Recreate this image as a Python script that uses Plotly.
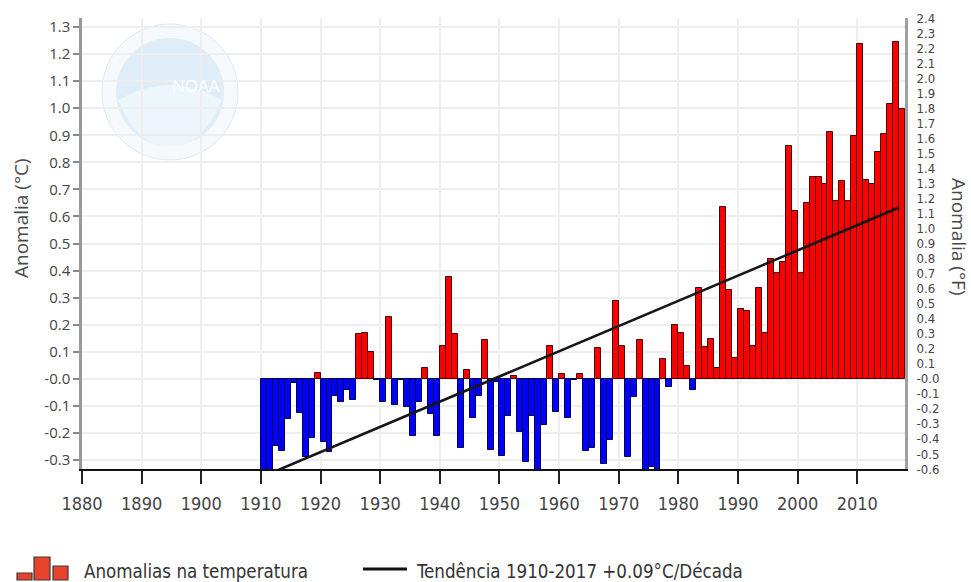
import plotly.graph_objects as go

# Annual temperature anomalies (°C), 1910-2017
years = list(range(1910, 2018))
anomalies = [
    -0.36, -0.35, -0.25, -0.265, -0.15, -0.015, -0.125, -0.29, -0.22, 0.02,      # 1910s
    -0.235, -0.27, -0.065, -0.085, -0.04, -0.08, 0.165, 0.17, 0.10, -0.005,      # 1920s
    -0.085, 0.23, -0.095, -0.005, -0.105, -0.21, -0.085, 0.04, -0.13, -0.21,     # 1930s
    0.12, 0.378, 0.166, -0.256, 0.031, -0.143, -0.062, 0.142, -0.262, -0.01,     # 1940s
    -0.284, -0.137, 0.009, -0.195, -0.308, -0.139, -0.345, -0.17, 0.123, -0.123, # 1950s
    0.017, -0.146, -0.006, 0.017, -0.268, -0.256, 0.113, -0.314, -0.225, 0.289,  # 1960s
    0.123, -0.289, -0.066, 0.143, -0.35, -0.325, -0.345, 0.074, -0.031, 0.20,    # 1970s
    0.171, 0.048, -0.043, 0.337, 0.116, 0.146, 0.039, 0.634, 0.329, 0.076,       # 1980s
    0.257, 0.249, 0.121, 0.337, 0.169, 0.443, 0.39, 0.431, 0.86, 0.62,           # 1990s
    0.39, 0.649, 0.746, 0.746, 0.72, 0.911, 0.657, 0.73, 0.657, 0.897,           # 2000s
    1.236, 0.734, 0.719, 0.839, 0.905, 1.014, 1.243, 0.997,                      # 2010s
]
assert len(anomalies) == len(years)

# Linear trend 1910-2017 (+0.09 °C per decade)
trend_years = [1910, 2017]
trend_values = [-0.364, 0.633]

# Axis ticks
decade_ticks = list(range(1880, 2011, 10))
celsius_ticks = [-0.3, -0.2, -0.1, 0.0, 0.1, 0.2, 0.3, 0.4, 0.5, 0.6, 0.7, 0.8,
                 0.9, 1.0, 1.1, 1.2, 1.3]
celsius_labels = ["-0.3", "-0.2", "-0.1", "-0.0", "0.1", "0.2", "0.3", "0.4", "0.5",
                  "0.6", "0.7", "0.8", "0.9", "1.0", "1.1", "1.2", "1.3"]
fahrenheit_ticks = [round(-0.6 + 0.1 * i, 1) for i in range(31)]
fahrenheit_labels = ["-0.6", "-0.5", "-0.4", "-0.3", "-0.2", "-0.1", "-0.0",
                     "0.1", "0.2", "0.3", "0.4", "0.5", "0.6", "0.7", "0.8", "0.9",
                     "1.0", "1.1", "1.2", "1.3", "1.4", "1.5", "1.6", "1.7", "1.8",
                     "1.9", "2.0", "2.1", "2.2", "2.3", "2.4"]

LEGEND_BAR = "Anomalias na temperatura"
LEGEND_LINE = "Tendência 1910-2017 +0.09°C/Década"

NARROW = "DejaVu Sans Condensed, Liberation Sans Narrow, sans-serif"
ROUND = "Open Sans, Noto Sans, DejaVu Sans, sans-serif"

W, H = 971, 582
ML, MR, MT, MB = 82, 66, 18, 113
PW, PH = W - ML - MR, H - MT - MB


def px(x):
    return (x - ML) / PW


def py(y):
    return (H - MB - y) / PH


bar_fill = ["#ff0000" if v >= 0 else "#0000ff" for v in anomalies]
bar_edge = ["#4a0000" if v >= 0 else "#00004a" for v in anomalies]

fig = go.Figure()
fig.add_trace(go.Bar(
    x=years, y=anomalies, width=1, offset=0,
    marker=dict(color=bar_fill, line=dict(color=bar_edge, width=1)),
    showlegend=False, name=LEGEND_BAR,
))
fig.add_trace(go.Scatter(
    x=trend_years, y=trend_values, mode="lines",
    line=dict(color="#161616", width=2.6),
    showlegend=False, name=LEGEND_LINE,
))
# anchor trace for the Fahrenheit axis
fig.add_trace(go.Scatter(
    x=[1880], y=[0], yaxis="y2", mode="markers",
    marker=dict(opacity=0), showlegend=False, hoverinfo="skip",
))

shapes = []
# faded agency emblem behind the plot
shapes.append(dict(type="circle", xref="paper", yref="paper", layer="below",
                   x0=px(102), x1=px(238), y0=py(160), y1=py(24),
                   fillcolor="rgba(236,244,249,0.5)", line=dict(color="rgba(205,222,234,0.6)", width=1)))
shapes.append(dict(type="circle", xref="paper", yref="paper", layer="below",
                   x0=px(116), x1=px(224), y0=py(146), y1=py(38),
                   fillcolor="rgba(200,226,243,0.5)", line=dict(width=0)))
shapes.append(dict(type="path", xref="paper", yref="paper", layer="below",
                   path=f"M {px(118)},{py(100)} Q {px(170)},{py(70)} {px(222)},{py(100)} "
                        f"Q {px(200)},{py(150)} {px(170)},{py(146)} Q {px(140)},{py(150)} {px(118)},{py(100)} Z",
                   fillcolor="rgba(238,246,251,0.9)", line=dict(width=0)))

# legend: small three-bar glyph
for x0, x1, top in [(17, 32, 573), (34, 50, 557), (53, 68, 566)]:
    shapes.append(dict(type="rect", xref="paper", yref="paper",
                       x0=px(x0), x1=px(x1), y0=py(580), y1=py(top),
                       fillcolor="#e8432c", line=dict(color="#3a3a3a", width=1.2)))
# legend: trend line glyph
shapes.append(dict(type="line", xref="paper", yref="paper",
                   x0=px(363), x1=px(407), y0=py(569), y1=py(569),
                   line=dict(color="#111111", width=3)))

annotations = [
    dict(text="Anomalia (°C)", xref="paper", yref="paper", x=px(21), y=py(218),
         xanchor="center", yanchor="middle", textangle=-90, showarrow=False,
         font=dict(family=ROUND, size=19, color="#4a4a4a")),
    dict(text="Anomalia (°F)", xref="paper", yref="paper", x=px(959), y=py(236),
         xanchor="center", yanchor="middle", textangle=90, showarrow=False,
         font=dict(family=ROUND, size=19, color="#4a4a4a")),
    dict(text="NOAA", xref="paper", yref="paper", x=px(170), y=py(72),
         showarrow=False, font=dict(family=ROUND, size=17, color="rgba(255,255,255,0.95)")),
    dict(text=LEGEND_BAR, xref="paper", yref="paper", x=px(82), y=py(571),
         xanchor="left", yanchor="middle", showarrow=False,
         font=dict(family=NARROW, size=18.6, color="#333333")),
    dict(text=LEGEND_LINE, xref="paper", yref="paper", x=px(414), y=py(571),
         xanchor="left", yanchor="middle", showarrow=False,
         font=dict(family=NARROW, size=18.6, color="#333333")),
]

fig.update_layout(
    width=W, height=H,
    margin=dict(l=ML, r=MR, t=MT, b=MB, pad=0),
    paper_bgcolor="white", plot_bgcolor="white",
    bargap=0, showlegend=False,
    xaxis=dict(
        range=[1880, 2018], tickvals=decade_ticks,
        ticks="outside", ticklen=13, tickwidth=1.5, tickcolor="#222",
        showline=True, linecolor="#111", linewidth=2,
        showgrid=True, gridcolor="#eeeeee", gridwidth=1.5, zeroline=False,
        ticklabelstandoff=4,
        tickfont=dict(family=NARROW, size=18, color="#444"),
    ),
    yaxis=dict(
        range=[-1 / 3, 4 / 3], tickvals=celsius_ticks, ticktext=celsius_labels,
        ticks="outside", ticklen=6, tickwidth=1.5, tickcolor="#888",
        showline=True, linecolor="#999", linewidth=2.5,
        showgrid=True, gridcolor="#eeeeee", gridwidth=1.5, zeroline=False,
        tickfont=dict(family=ROUND, size=15, color="#444"),
    ),
    yaxis2=dict(
        overlaying="y", side="right", range=[-0.6, 2.4],
        tickvals=fahrenheit_ticks, ticktext=fahrenheit_labels,
        ticks="", showgrid=False, zeroline=False,
        showline=True, linecolor="#a0a0a0", linewidth=3,
        ticklabelstandoff=6,
        tickfont=dict(family=NARROW, size=13, color="#444"),
    ),
    shapes=shapes, annotations=annotations,
)

fig.write_html("out.html")
